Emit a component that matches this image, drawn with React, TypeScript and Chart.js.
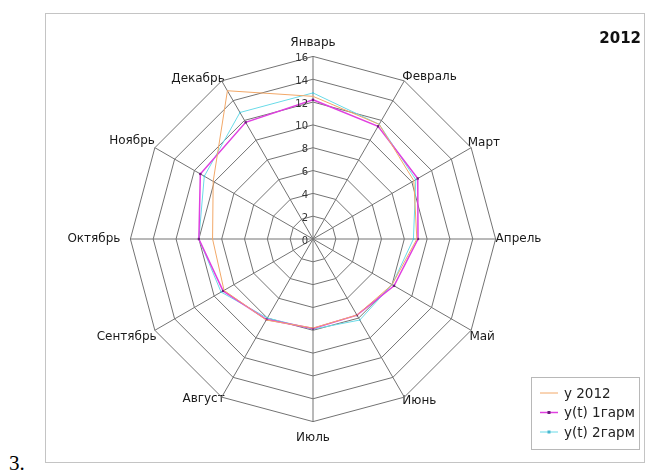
import React, { useEffect, useRef } from "react";
import { Chart, registerables } from "chart.js";

Chart.register(...registerables);

const months = ["Январь", "Февраль", "Март", "Апрель", "Май", "Июнь", "Июль", "Август", "Сентябрь", "Октябрь", "Ноябрь", "Декабрь"];
const y2012 = [12.5, 11.6, 10.2, 9.1, 8.0, 7.7, 7.8, 8.2, 9.0, 8.8, 10.1, 15.0];
const harm1 = [12.2, 11.4, 10.6, 9.2, 8.2, 7.7, 7.85, 8.15, 9.1, 10.0, 11.4, 11.8];
const harm2 = [12.8, 11.6, 10.4, 8.8, 8.0, 8.2, 7.9, 8.0, 9.3, 10.0, 11.0, 12.8];
const seriesLabels = ["y 2012", "y(t) 1гарм", "y(t) 2гарм"];
const chartTitle = "2012";
const scaleMin = 0;
const scaleMax = 16;
const scaleStep = 2;

// per-label distance tweaks (style only)
const labelPadding = [6, -4, -4, 0, -2, -4, 9, -6, -2, 10, 0, -6];

const FONT = "'DejaVu Sans', sans-serif";

const overlayPlugin = {
  id: "overlay",
  afterDraw(chart: any) {
    const ctx = chart.ctx;
    const scale = chart.scales.r;
    ctx.save();
    // tick labels to the left of the vertical axis
    ctx.font = "10px " + FONT;
    ctx.fillStyle = "#333";
    ctx.textAlign = "right";
    ctx.textBaseline = "middle";
    scale.ticks.forEach((t: any) => {
      const d = scale.getDistanceFromCenterForValue(t.value);
      ctx.fillText(String(t.value), scale.xCenter - 5, scale.yCenter - d + 2);
    });
    // title
    ctx.font = "bold 15px " + FONT;
    ctx.fillStyle = "#111";
    ctx.textAlign = "right";
    ctx.fillText(chartTitle, 595, 25);
    // legend box
    const bx = 485, by = 363, bw = 108, bh = 72;
    ctx.strokeStyle = "#b8b8b8";
    ctx.lineWidth = 1;
    ctx.strokeRect(bx + 0.5, by + 0.5, bw, bh);
    ctx.font = "13.5px " + FONT;
    ctx.textAlign = "left";
    chart.data.datasets.forEach((ds: any, i: number) => {
      const yy = by + 16 + i * 19.5;
      ctx.strokeStyle = ds.borderColor;
      ctx.lineWidth = ds.borderWidth;
      ctx.beginPath();
      ctx.moveTo(bx + 9, yy);
      ctx.lineTo(bx + 27, yy);
      ctx.stroke();
      if (ds.pointRadius > 0) {
        ctx.fillStyle = ds.pointBackgroundColor;
        ctx.fillRect(bx + 16.5, yy - 1.5, 3, 3);
      }
      ctx.fillStyle = "#222";
      ctx.fillText(ds.label, bx + 33, yy + 1);
    });
    ctx.restore();
  },
};

export default function App() {
  const ref = useRef<HTMLCanvasElement>(null);
  useEffect(() => {
    if (!ref.current) return;
    const chart = new Chart(ref.current, {
      type: "radar",
      data: {
        labels: months,
        datasets: [
          {
            label: seriesLabels[0],
            data: y2012,
            borderColor: "#f2a868",
            borderWidth: 1,
            pointRadius: 0,
            fill: false,
          },
          {
            label: seriesLabels[1],
            data: harm1,
            borderColor: "#e040e0",
            borderWidth: 1.5,
            pointRadius: 1.6,
            pointStyle: "rect",
            pointBackgroundColor: "#6a1a7a",
            pointBorderColor: "#6a1a7a",
            pointBorderWidth: 0,
            fill: false,
          },
          {
            label: seriesLabels[2],
            data: harm2,
            borderColor: "#6adbe8",
            borderWidth: 1,
            pointRadius: 1,
            pointStyle: "rect",
            pointBackgroundColor: "#48b8d0",
            pointBorderColor: "#48b8d0",
            pointBorderWidth: 0,
            fill: false,
          },
        ],
      },
      options: {
        animation: false,
        responsive: false,
        layout: { padding: { top: 21, bottom: 16, left: 0, right: 64 } },
        plugins: { legend: { display: false }, title: { display: false }, tooltip: { enabled: false } },
        elements: { line: { tension: 0 } },
        scales: {
          r: {
            min: scaleMin,
            max: scaleMax,
            ticks: { stepSize: scaleStep, display: false },
            grid: { color: "#737373", lineWidth: 1, circular: false },
            angleLines: { color: "#737373", lineWidth: 1 },
            pointLabels: {
              padding: (ctx: any) => labelPadding[ctx.index] ?? 5,
              color: "#1a1a1a",
              font: { size: 12, family: FONT },
            },
          },
        },
      },
      plugins: [overlayPlugin],
    });
    return () => chart.destroy();
  }, []);
  return (
    <div style={{ position: "absolute", left: 0, top: 0, width: 646, height: 475, background: "#fff" }}>
      <span style={{ position: "absolute", left: 9, top: 451, fontFamily: "'Liberation Serif', 'Times New Roman', serif", fontSize: 21, color: "#000" }}>3.</span>
      <div style={{ position: "absolute", left: 45, top: 13, width: 600, height: 450, border: "1px solid #c4c4c4", boxSizing: "border-box" }}>
        <canvas ref={ref} width={598} height={448} style={{ display: "block" }} />
      </div>
    </div>
  );
}
